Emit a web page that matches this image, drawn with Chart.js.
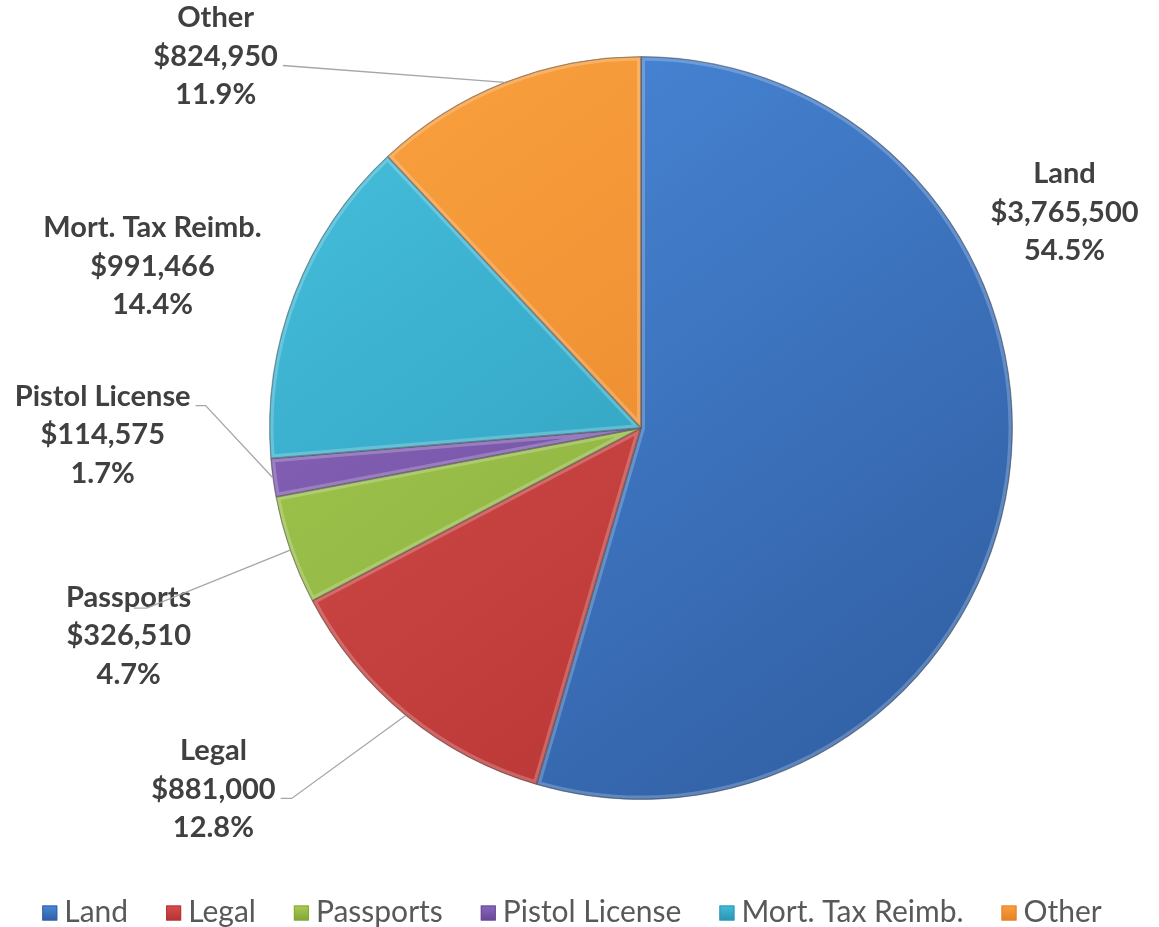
<!DOCTYPE html>
<html>
<head>
<meta charset="utf-8">
<script src="https://cdn.jsdelivr.net/npm/chart.js@4.4.1/dist/chart.umd.min.js"></script>
<style>
html,body{margin:0;padding:0;background:#fff;}
#wrap{width:1159px;height:927px;position:relative;}
</style>
</head>
<body>
<div id="wrap"><canvas id="c" width="1159" height="927"></canvas></div>
<script>
// ---- data ----
const categories = ["Land", "Legal", "Passports", "Pistol License", "Mort. Tax Reimb.", "Other"];
const values = [3765500, 881000, 326510, 114575, 991466, 824950];
const valueLabels = ["$3,765,500", "$881,000", "$326,510", "$114,575", "$991,466", "$824,950"];
const percentLabels = ["54.5%", "12.8%", "4.7%", "1.7%", "14.4%", "11.9%"];

// ---- styles ----
const lightColors = ["#4B8CDE", "#DA524D", "#ABCF55", "#8C69BF", "#46C0DE", "#FBA23F"];
const darkColors  = ["#3261A6", "#B53434", "#82A838", "#6B4999", "#2A97B5", "#E5832A"];
// label placement relative to pie centre, in units of radius
const labelPos = [[1.14,-0.58],[-1.151,0.973],[-1.379,0.559],[-1.449,0.019],[-1.315,-0.435],[-1.145,-1.0]];
const leaders = [null,{line:1,from:'right',knee:11},{line:0,from:'center',knee:13},{line:0,from:'right',knee:10},null,{line:1,from:'right',knee:0}];

const FONT = "Lato, 'Open Sans', sans-serif";

function grad(ctx, i){
  const chart = ctx.chart;
  const a = chart.chartArea;
  if(!a) return lightColors[i];
  const g = chart.ctx.createLinearGradient(a.left, a.top, a.right*0.8, a.bottom);
  g.addColorStop(0, lightColors[i]);
  g.addColorStop(1, darkColors[i]);
  return g;
}

const bevelPlugin = {
  id:'bevel',
  afterDatasetsDraw(chart){
    const ctx = chart.ctx;
    const meta = chart.getDatasetMeta(0);
    meta.data.forEach((arc)=>{
      const p = arc.getProps(['x','y','startAngle','endAngle','outerRadius'], true);
      ctx.save();
      ctx.beginPath();
      ctx.moveTo(p.x, p.y);
      ctx.arc(p.x, p.y, p.outerRadius, p.startAngle, p.endAngle);
      ctx.closePath();
      ctx.clip();
      ctx.strokeStyle = "rgba(255,255,255,0.22)";
      ctx.lineWidth = 8;
      ctx.stroke();
      ctx.strokeStyle = "rgba(0,0,0,0.2)";
      ctx.lineWidth = 2;
      ctx.stroke();
      ctx.restore();
    });
  }
};

const labelPlugin = {
  id:'outLabels',
  afterDatasetsDraw(chart){
    const ctx = chart.ctx;
    const meta = chart.getDatasetMeta(0);
    const lh = 38.5;
    meta.data.forEach((arc, i)=>{
      const p = arc.getProps(['x','y','startAngle','endAngle','outerRadius'], true);
      const r = p.outerRadius;
      const cx = p.x + labelPos[i][0]*r;
      const cy = p.y + labelPos[i][1]*r;
      const lines = [categories[i], valueLabels[i], percentLabels[i]];
      ctx.save();
      ctx.font = "bold 29px " + FONT;
      ctx.fillStyle = "#404040";
      ctx.textAlign = "center";
      ctx.textBaseline = "middle";
      lines.forEach((t,k)=>{ ctx.fillText(t, cx, cy + (k-1)*lh); });
      const L = leaders[i];
      if(L){
        const mid = (p.startAngle + p.endAngle)/2;
        const ex = p.x + Math.cos(mid)*r;
        const ey = p.y + Math.sin(mid)*r;
        let sx, sy;
        if(L.from==='right'){
          sx = cx + ctx.measureText(lines[L.line]).width/2 + 5;
          sy = cy + (L.line-1)*lh + 9;
        } else {
          sx = cx + 5;
          sy = cy - lh + 11;
        }
        ctx.strokeStyle = "#A6A6A6";
        ctx.lineWidth = 1.3;
        ctx.beginPath();
        ctx.moveTo(sx, sy);
        ctx.lineTo(sx + L.knee, sy);
        ctx.lineTo(ex, ey);
        ctx.stroke();
      }
      ctx.restore();
    });
  }
};

const legendPlugin = {
  id:'bottomLegend',
  afterDraw(chart){
    const ctx = chart.ctx;
    ctx.save();
    ctx.font = "30px " + FONT;
    const box = 15, gapBT = 7, gapItem = 38;
    const widths = categories.map(c => box + gapBT + ctx.measureText(c).width);
    const total = widths.reduce((a,b)=>a+b,0) + gapItem*(categories.length-1);
    let x = 572 - total/2;
    const y = 912;
    categories.forEach((c,i)=>{
      const g = ctx.createLinearGradient(x, y-box/2, x, y+box/2);
      g.addColorStop(0, lightColors[i]);
      g.addColorStop(1, darkColors[i]);
      ctx.fillStyle = g;
      ctx.fillRect(x, y-box/2+1, box, box);
      ctx.strokeStyle = darkColors[i];
      ctx.lineWidth = 1;
      ctx.strokeRect(x+0.5, y-box/2+1.5, box-1, box-1);
      ctx.fillStyle = "#595959";
      ctx.textBaseline = "middle";
      ctx.textAlign = "left";
      ctx.fillText(c, x + box + gapBT, y);
      x += widths[i] + gapItem;
    });
    ctx.restore();
  }
};

new Chart(document.getElementById('c'), {
  type:'pie',
  data:{
    labels: categories,
    datasets:[{
      data: values,
      backgroundColor: (ctx)=>grad(ctx, ctx.dataIndex),
      borderColor: "rgba(40,40,40,0.35)",
      borderWidth: 1
    }]
  },
  options:{
    responsive:false,
    animation:false,
    layout:{padding:{left:269, right:146, top:56, bottom:127}},
    plugins:{
      legend:{display:false},
      tooltip:{enabled:false}
    }
  },
  plugins:[bevelPlugin, labelPlugin, legendPlugin]
});
</script>
</body>
</html>
